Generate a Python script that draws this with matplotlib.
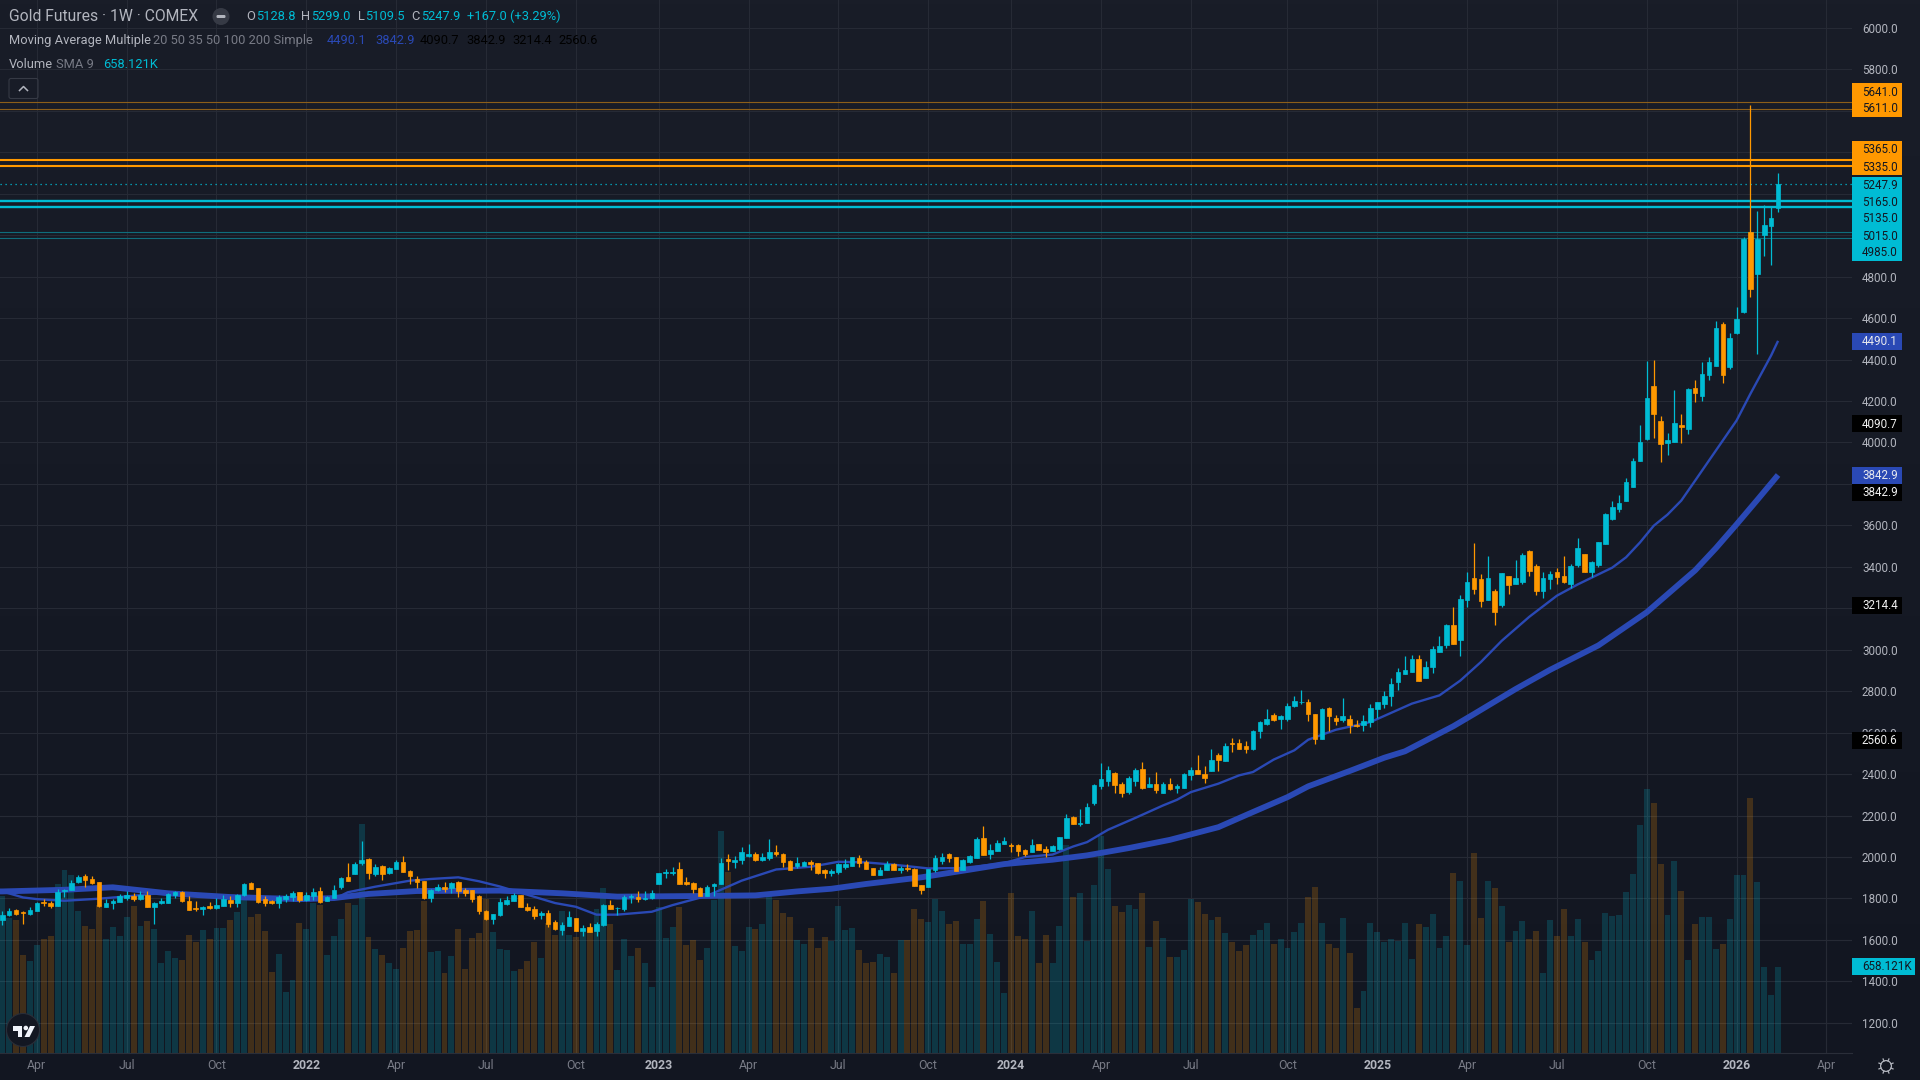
import numpy as np
import matplotlib
matplotlib.use("Agg")
import matplotlib.pyplot as plt
from matplotlib.patches import Circle, FancyBboxPatch, Polygon, Rectangle

plt.rcParams["font.family"] = ["Roboto", "DejaVu Sans"]

# Weekly gold futures candles, oldest first
opens = [1698,1722,1746,1735,1727,1741,1784,1780,1765,1837,1842,1881,1910,1895,1881,1760,1780,1785,1804,1813,1799,1818,1760,1780,1780,1818,1833,1789,1756,1751,1765,1756,1765,1794,1780,1818,1876,1852,1799,1789,1780,1799,1809,1833,1794,1813,1837,1789,1804,1857,1905,1919,1973,1992,1919,1958,1924,1944,1977,1934,1895,1886,1804,1842,1857,1852,1881,1842,1842,1813,1741,1703,1722,
         1775,1789,1818,1760,1751,1722,1731,1688,1649,1669,1707,1645,1664,1645,1674,1770,1752,1751,1809,1809,1797,1804,1871,1924,1924,1944,1881,1876,1852,1813,1862,1871,1992,1977,1987,2006,2016,1987,1997,2026,2016,1982,1958,1958,1977,1973,1939,1924,1929,1953,1958,1997,1977,1949,1915,1939,1968,1939,1949,1944,1867,1857,1939,1982,2016,2002,1939,1977,1997,2093,2016,2031,
         2065,2059,2056,2036,2022,2061,2041,2027,2041,2090,2191,2157,2162,2259,2341,2365,2404,2350,2312,2365,2423,2336,2350,2307,2350,2331,2334,2396,2421,2402,
         2417,2490,2465,2552,2548,2538,2523,2606,2644,2683,2668,2668,2731,2746,2746,2692,2567,2717,2673,2663,2668,2639,2635,2649,2712,2736,2775,2842,2881,2891,2953,2866,2915,
         2991,3025,3121,3049,3242,3348,3339,3242,3281,3218,3358,3319,3329,3474,3402,3281,3339,3377,3358,3315,3411,3460,3377,3411,3511,
         3629,3678,3717,3784,3909,4015,4271,4102,3996,4001,4083,4063,4261,4223,4324,4367,4570,4362,4527,4628,5014,4811,5000,5043,5128.8]
closes = [1722,1741,1727,1730,1746,1780,1780,1765,1833,1842,1876,1905,1891,1876,1765,1780,1789,1813,1818,1799,1818,1760,1780,1789,1823,1833,1789,1746,1751,1760,1756,1770,1799,1780,1818,1871,1847,1785,1780,1780,1809,1813,1828,1794,1818,1833,1785,1809,1842,1900,1886,1968,1987,1924,1953,1919,1949,1977,1929,1910,1881,1804,1842,1857,1847,1876,1837,1828,1799,1741,1703,1727,1785,
          1794,1818,1760,1746,1717,1731,1678,1654,1674,1712,1645,1659,1640,1678,1770,1751,1756,1809,1813,1799,1802,1828,1924,1929,1929,1871,1871,1847,1813,1857,1871,1973,1982,1987,2026,2016,1987,2002,2026,2016,1977,1939,1973,1977,1968,1924,1924,1934,1968,1968,2002,1973,1944,1915,1939,1968,1939,1949,1944,1862,1842,1944,1997,2002,1997,1934,1987,2006,2088,2011,2035,2068,
          2075,2054,2027,2017,2056,2036,2022,2051,2099,2186,2157,2162,2239,2346,2375,2418,2346,2307,2379,2418,2331,2350,2321,2350,2326,2341,2399,2421,2399,2381,
          2470,2470,2538,2543,2523,2523,2610,2649,2668,2663,2678,2731,2755,2750,2692,2567,2712,2678,2654,2678,2639,2630,2654,2717,2750,2779,2837,2891,2900,2953,2847,2915,3002,
          3020,3117,3030,3247,3329,3295,3237,3344,3184,3368,3310,3348,3455,3382,3281,3344,3363,3353,3329,3402,3493,3377,3421,3518,3653,
          3687,3707,3808,3909,4001,4213,4136,3991,4010,4092,4073,4256,4237,4329,4386,4551,4324,4502,4594,4981,4739,4981,5048,5082,5247.9]
highs = [1741,1756,1751,1741,1760,1785,1799,1789,1847,1847,1891,1915,1920,1910,1881,1799,1799,1823,1837,1828,1837,1837,1785,1804,1828,1838,1838,1813,1789,1765,1784,1804,1818,1813,1823,1876,1881,1852,1813,1794,1818,1823,1838,1833,1833,1852,1857,1814,1867,1905,1973,1978,2079,1997,1968,1963,1954,1987,2006,1939,1910,1886,1847,1871,1881,1881,1886,1852,1842,1818,1746,1727,1800,
         1813,1828,1818,1780,1765,1741,1746,1698,1688,1741,1707,1674,1683,1688,1775,1794,1760,1818,1823,1837,1837,1842,1924,1944,1953,1977,1905,1881,1857,1867,1876,1997,2016,2006,2050,2064,2026,2021,2088,2059,2021,1987,2002,1982,1987,1973,1944,1944,1973,1992,2002,2011,1987,1949,1953,1982,1973,1958,1968,1949,1867,1944,2011,2021,2021,2002,1992,2011,2098,2151,2063,2084,
         2099,2070,2065,2041,2085,2065,2051,2056,2099,2206,2196,2230,2259,2350,2452,2437,2408,2360,2389,2428,2457,2384,2408,2360,2383,2354,2405,2434,2491,2437,
         2523,2504,2548,2572,2567,2562,2615,2654,2712,2697,2683,2741,2775,2804,2760,2692,2721,2726,2683,2765,2683,2659,2683,2736,2750,2799,2866,2910,2968,2973,2977,2944,3016,
         3064,3126,3204,3262,3373,3513,3363,3450,3295,3368,3358,3431,3469,3479,3416,3377,3382,3392,3450,3416,3537,3464,3426,3518,3658,
         3716,3746,3827,3923,4083,4391,4396,4126,4044,4252,4136,4261,4300,4387,4410,4584,4580,4527,4652,4990,5626,5116,5145,5137,5299]
lows = [1674,1717,1722,1678,1722,1741,1765,1756,1765,1809,1842,1876,1857,1871,1760,1760,1751,1785,1794,1789,1794,1760,1678,1775,1780,1804,1785,1746,1741,1722,1751,1751,1765,1760,1760,1813,1847,1780,1765,1775,1756,1785,1789,1785,1789,1794,1780,1789,1804,1847,1886,1919,1963,1895,1910,1891,1919,1944,1929,1871,1852,1799,1785,1837,1833,1828,1809,1813,1785,1727,1698,1678,1717,
        1770,1789,1760,1741,1702,1702,1664,1649,1625,1669,1645,1620,1640,1620,1669,1751,1722,1741,1780,1785,1794,1799,1871,1900,1915,1871,1867,1828,1813,1813,1813,1871,1939,1949,1968,2002,1982,1982,1987,2006,1953,1939,1949,1958,1939,1920,1900,1910,1920,1944,1958,1953,1944,1915,1915,1939,1939,1924,1934,1862,1823,1857,1929,1968,1977,1934,1939,1973,1997,2011,1989,2031,
        2065,2022,2007,2007,2022,2032,1998,2027,2036,2090,2157,2152,2162,2249,2326,2341,2307,2288,2302,2341,2326,2336,2309,2307,2321,2309,2334,2370,2399,2357,
        2417,2417,2465,2509,2523,2504,2514,2572,2639,2654,2620,2654,2722,2736,2654,2543,2567,2606,2639,2649,2596,2625,2610,2625,2673,2717,2731,2804,2881,2891,2847,2866,2886,
        2991,3010,3030,2972,3208,3271,3208,3242,3121,3208,3271,3319,3315,3358,3266,3252,3291,3315,3324,3300,3397,3377,3353,3397,3508,
        3624,3663,3717,3784,3909,4010,4020,3904,3938,4001,3996,4039,4194,4199,4300,4367,4285,4352,4522,4624,4700,4425,4899,4855,5109.5]
# Weekly volume in thousands of contracts
volumes = [1199,1030,1015,747,701,823,869,892,1291,1399,1360,1084,969,946,1130,869,961,892,1038,1122,969,1007,946,685,777,723,708,900,846,938,869,954,954,1015,1076,1176,1038,1061,931,616,754,463,555,992,946,1146,1130,747,892,1023,1146,1130,1752,885,793,747,685,639,800,931,938,1161,770,777,609,739,946,639,877,915,1176,923,793,
           785,624,639,701,846,723,992,900,1084,900,885,938,946,1100,1261,985,632,869,739,800,685,501,1115,877,961,1115,823,862,708,800,1169,1698,1383,816,777,961,946,985,1207,1169,1069,1038,862,831,954,800,885,854,1122,938,954,785,685,693,754,731,609,862,862,1100,1023,1000,1176,1084,985,1007,831,831,1023,1161,908,693,
           453,1220,890,867,1089,683,898,690,974,1588,1189,1227,859,1281,1657,1404,1120,1074,1135,1097,1220,813,1005,882,729,736,790,1181,1151,1066,1013,1036,913,844,782,828,905,936,997,836,874,805,928,990,1189,1273,990,836,805,1028,767,338,468,990,928,851,867,859,990,721,982,959,1066,798,890,1373,1312,821,1527,1028,1319,1261,
           1122,846,931,1008,869,931,608,1017,892,1099,892,1022,846,707,778,1068,1045,1054,1230,1369,1744,2022,1914,1446,1054,1468,1238,707,985,1039,1039,792,832,1022,1360,1360,1951,1306,653,440,658.121]

# Moving averages, read at selected weeks; the lines run in from before the first candle
ma_fast_weeks = [-1,0,3,5,9,14,19,24,28,33,38,43,48,50,54,59,62,66,69,72,76,80,83,86,89,94,97,102,107,112,117,121,125,129,134,139,145,148,152,155,157,160,164,168,170,172,176,179,181,184,187,189,193,198,204,208,211,214,217,221,225,228,233,235,237,239,241,243,245,248,251,253,256,257]
ma_fast = [1838,1834,1805,1797,1789,1799,1813,1830,1818,1805,1805,1789,1797,1830,1857,1886,1894,1902,1883,1858,1818,1778,1760,1722,1722,1736,1768,1813,1886,1940,1953,1977,1974,1963,1945,1947,1970,2000,2012,2051,2072,2131,2189,2249,2276,2313,2354,2394,2410,2470,2515,2566,2614,2651,2740,2780,2851,2941,3043,3159,3261,3315,3396,3446,3517,3598,3652,3720,3816,3961,4106,4235,4420,4490.1]
ma_slow_weeks = [-1,0,9,16,24,33,43,48,53,60,72,81,89,101,109,115,120,125,133,140,145,152,157,163,169,176,181,186,189,195,200,203,210,213,219,224,231,238,245,248,251,254,257]
ma_slow = [1834,1834,1842,1854,1825,1807,1797,1802,1822,1836,1838,1825,1809,1812,1815,1834,1847,1870,1902,1939,1966,1987,2008,2043,2083,2144,2217,2289,2341,2415,2479,2510,2631,2690,2810,2903,3021,3181,3383,3490,3605,3723,3842.9]

# Horizontal levels
orange_levels_thin = [5641.0, 5611.0]
orange_levels_bold = [5365.0, 5335.0]
teal_levels_bold = [5165.0, 5135.0]
teal_levels_thin = [5015.0, 4985.0]
last_price = 5247.9

# Time axis
time_ticks = [5,18,31,44,57,70,83,95,108,121,134,146,159,172,186,199,212,225,238,251,264]
time_labels = ["Apr","Jul","Oct","2022","Apr","Jul","Oct","2023","Apr","Jul","Oct","2024","Apr","Jul","Oct","2025","Apr","Jul","Oct","2026","Apr"]
price_ticks = list(range(1200, 6001, 200))
# These grid levels sit behind a value tag, so they carry no label of their own
untitled_prices = {3200, 3800, 5000, 5200, 5400, 5600}

TEAL = "#00bcd4"
ORANGE = "#ff9800"
BLUE = "#2a49b5"
GRID = "#262a35"
LABEL = "#b2b5be"
MUTED = "#787b86"

W, H = 1920, 1080
PLOT_R, PLOT_B = 1852, 1052.5
fig = plt.figure(figsize=(W / 100, H / 100), dpi=100, facecolor="#131722")

# Background wash, slightly lighter at the top of the window
ax_bg = fig.add_axes([0, 0, 1, 1], zorder=0)
shade = np.linspace(0, 1, 256)[:, None, None]
top_c = np.array([0x19, 0x1d, 0x28]) / 255
bot_c = np.array([0x12, 0x16, 0x21]) / 255
ax_bg.imshow(top_c + (bot_c - top_c) * shade, aspect="auto", extent=[0, 1, 0, 1])
ax_bg.axis("off")

pos = [0, (H - PLOT_B) / H, PLOT_R / W, PLOT_B / H]
xlim = (-0.333, 267.7)
ylim = (1057.0, 6134.5)

# Grid and axis labels
ax = fig.add_axes(pos, zorder=1)
ax.patch.set_alpha(0)
ax.set_xlim(*xlim)
ax.set_ylim(*ylim)
ax.yaxis.tick_right()
ax.set_yticks(price_ticks)
ax.set_yticklabels(["" if p in untitled_prices else f"{p:.1f}" for p in price_ticks],
                   fontsize=8.4, color=LABEL, va="center_baseline")
ax.set_xticks(time_ticks)
ax.set_xticklabels(time_labels, fontsize=8.8, color=MUTED)
for lab in ax.get_xticklabels():
    if lab.get_text().isdigit():
        lab.set_color(LABEL)
        lab.set_fontweight("bold")
ax.tick_params(axis="both", length=0)
ax.tick_params(axis="y", pad=7.2)
ax.tick_params(axis="x", pad=4.5)
ax.grid(True, color=GRID, linewidth=0.8)
ax.set_axisbelow(True)
for side in ("top", "left", "right"):
    ax.spines[side].set_visible(False)
ax.spines["bottom"].set_color("#2a2e39")

weeks = np.arange(len(closes))
o = np.array(opens, float)
c = np.array(closes, float)
hi = np.array(highs, float)
lo = np.array(lows, float)
vol = np.array(volumes, float)
up = c >= o
colors = np.where(up, TEAL, ORANGE)

# Volume histogram on its own scale
ax_vol = fig.add_axes(pos, zorder=2)
ax_vol.patch.set_alpha(0)
ax_vol.axis("off")
ax_vol.set_xlim(*xlim)
ax_vol.set_ylim(0, 8073)
ax_vol.bar(weeks, vol, width=0.86, color=colors, alpha=0.2, linewidth=0)

# Price panel
ax_p = fig.add_axes(pos, zorder=3)
ax_p.patch.set_alpha(0)
ax_p.axis("off")
ax_p.set_xlim(*xlim)
ax_p.set_ylim(*ylim)
for y in orange_levels_thin:
    ax_p.axhline(y, color="#8d5f19", linewidth=0.8, zorder=1)
for y in orange_levels_bold:
    ax_p.axhline(y, color=ORANGE, linewidth=1.5, zorder=1)
for y in teal_levels_thin:
    ax_p.axhline(y, color="#0f6d7c", linewidth=0.8, zorder=1)
for y in teal_levels_bold:
    ax_p.axhline(y, color=TEAL, linewidth=1.7, zorder=1)
ax_p.axhline(last_price, color=TEAL, linewidth=0.9, linestyle=(0, (1, 3)), zorder=1)
ax_p.plot(ma_fast_weeks, ma_fast, color=BLUE, linewidth=1.7, zorder=2, solid_capstyle="butt")
ax_p.plot(ma_slow_weeks, ma_slow, color=BLUE, linewidth=4.2, zorder=2, solid_capstyle="butt")
ax_p.vlines(weeks, lo, hi, colors=colors, linewidth=0.9, zorder=3)
ax_p.bar(weeks, np.abs(c - o), bottom=np.minimum(o, c), width=0.66, color=colors,
         edgecolor=colors, linewidth=0.5, zorder=4)

# Window furniture, placed in screen pixels
ax_ui = fig.add_axes([0, 0, 1, 1], zorder=4)
ax_ui.patch.set_alpha(0)
ax_ui.axis("off")
ax_ui.set_xlim(0, W)
ax_ui.set_ylim(H, 0)


def tag(y, text, fill, ink="#131722", right=1902, weight="normal"):
    ax_ui.add_patch(Rectangle((PLOT_R, y - 8.5), right - PLOT_R, 17, facecolor=fill, edgecolor="none"))
    ax_ui.text(1862, y + 0.3, text, color=ink, fontsize=8.4, va="center", ha="left", fontweight=weight)


for y, s in [(91.7, "5641.0"), (108.2, "5611.0"), (149.3, "5365.0"), (166.8, "5335.0")]:
    tag(y, s, ORANGE)
for y, s in [(185, "5247.9"), (201.7, "5165.0"), (218.5, "5135.0"), (235.7, "5015.0"), (252.7, "4985.0")]:
    tag(y, s, TEAL)
tag(341.6, "4490.1", BLUE, "#e6e8ee")
tag(423.7, "4090.7", "#000000", "#f0f0f0")
tag(475.2, "3842.9", BLUE, "#e6e8ee")
tag(492.5, "3842.9", "#000000", "#f0f0f0")
tag(605, "3214.4", "#000000", "#f0f0f0")
tag(740, "2560.6", "#000000", "#f0f0f0")
tag(966, "658.121K", TEAL, right=1915)


def legend(x, y, text, color, size=9.3):
    ax_ui.text(x, y, text, color=color, fontsize=size, va="center", ha="left")


legend(8.6, 16.5, "Gold Futures · 1W · COMEX", LABEL, 11.3)
ax_ui.add_patch(Circle((221, 16.5), 8.5, facecolor="#363a45", edgecolor="none"))
ax_ui.add_patch(FancyBboxPatch((216.5, 15), 9, 3, boxstyle="round,pad=0,rounding_size=1.2",
                               facecolor=LABEL, edgecolor="none"))
for x, s, col in [(246, "O", LABEL), (256, "5128.8", TEAL), (301, "H", LABEL), (311, "5299.0", TEAL),
                  (358, "L", LABEL), (365, "5109.5", TEAL), (411, "C", LABEL), (421, "5247.9", TEAL),
                  (467, "+167.0 (+3.29%)", TEAL)]:
    legend(x, 16.5, s, col)
legend(8.6, 40.4, "Moving Average Multiple", LABEL)
legend(153, 40.4, "20 50 35 50 100 200 Simple", MUTED)
for x, s, col in [(327, "4490.1", BLUE), (375, "3842.9", BLUE), (420, "4090.7", "#000000"),
                  (466, "3842.9", "#000000"), (512, "3214.4", "#000000"), (558, "2560.6", "#000000")]:
    legend(x, 40.4, s, col)
legend(8.6, 64.3, "Volume", LABEL)
legend(56, 64.3, "SMA 9", MUTED)
legend(103, 64.3, "658.121K", TEAL)

# Collapse button
ax_ui.add_patch(FancyBboxPatch((9, 78.5), 29, 20, boxstyle="round,pad=0,rounding_size=2",
                               facecolor="none", edgecolor="#363a45", linewidth=0.8))
ax_ui.plot([19.5, 23.5, 27.5], [90.5, 86.5, 90.5], color=LABEL, linewidth=1.1)

# Badge in the lower left corner
ax_ui.add_patch(Circle((23, 1030), 16.5, facecolor="#131722", edgecolor="#2a2e39", linewidth=0.8))
ax_ui.add_patch(Polygon([(13, 1026), (22, 1026), (22, 1037), (18, 1037), (18, 1030.5), (13, 1030.5)],
                        facecolor="#f0f3fa", edgecolor="none"))
ax_ui.add_patch(Circle((25.8, 1028), 2.3, facecolor="#f0f3fa", edgecolor="none"))
ax_ui.add_patch(Polygon([(30, 1026), (35, 1026), (29.5, 1037), (24.5, 1037)], facecolor="#f0f3fa", edgecolor="none"))

# Settings cog next to the time axis
ax_ui.add_patch(Circle((1886, 1066), 5.4, facecolor="none", edgecolor=LABEL, linewidth=0.9))
for a in np.deg2rad(np.arange(0, 360, 45) + 22.5):
    ax_ui.plot([1886 + 5.4 * np.cos(a), 1886 + 7.6 * np.cos(a)],
               [1066 + 5.4 * np.sin(a), 1066 + 7.6 * np.sin(a)], color=LABEL, linewidth=0.9)

fig.savefig("out.png", dpi=100, facecolor=fig.get_facecolor())
